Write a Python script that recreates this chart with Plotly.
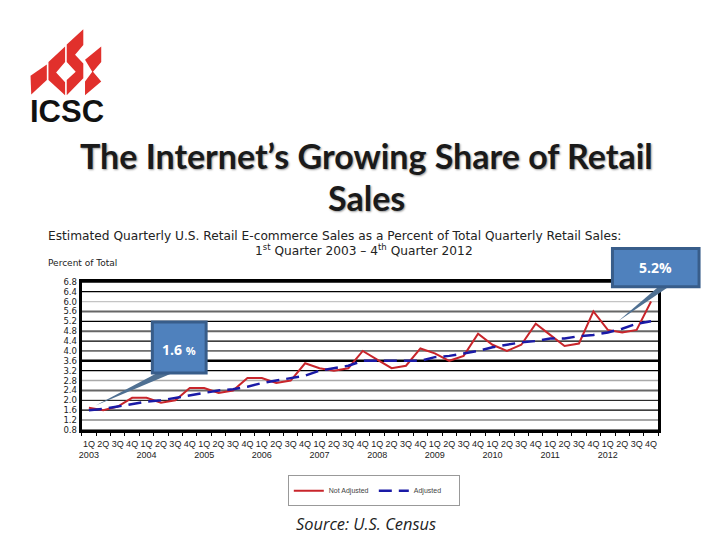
import plotly.graph_objects as go

W, H = 720, 540
quarters = ["1Q", "2Q", "3Q", "4Q"]
years = [2003, 2004, 2005, 2006, 2007, 2008, 2009, 2010, 2011, 2012]
not_adjusted = [1.7, 1.6, 1.75, 2.1, 2.1, 1.9, 2.0, 2.5, 2.5, 2.3,
                2.4, 2.9, 2.9, 2.7, 2.8, 3.5, 3.3, 3.2, 3.3, 4.0,
                3.65, 3.3, 3.4, 4.1, 3.9, 3.6, 3.8, 4.7, 4.25, 4.0,
                4.25, 5.1, 4.65, 4.2, 4.3, 5.6, 4.85, 4.75, 4.85, 6.0]
adjusted = [1.6, 1.65, 1.75, 1.85, 1.95, 2.0, 2.1, 2.2, 2.3, 2.4,
            2.45, 2.55, 2.7, 2.8, 2.9, 3.0, 3.2, 3.3, 3.4, 3.6,
            3.6, 3.6, 3.6, 3.6, 3.75, 3.8, 3.9, 4.0, 4.15, 4.25,
            4.35, 4.4, 4.5, 4.5, 4.6, 4.65, 4.75, 4.9, 5.1, 5.2]
y_ticks = [0.8, 1.2, 1.6, 2.0, 2.4, 2.8, 3.2, 3.6, 4.0, 4.4, 4.8, 5.2, 5.6, 6.0, 6.4, 6.8]
grid_colors = ["#000000", "#8a8a8a", "#000000", "#000000", "#666666", "#aaaaaa", "#000000", "#000000",
               "#000000", "#000000", "#666666", "#000000", "#666666", "#c4c4c4", "#000000", "#000000"]
grid_widths = [1, 1.5, 1.3, 1, 2, 1.5, 1.2, 2.4, 1, 1.2, 2, 1.2, 2, 1.2, 1.2, 2]
x_idx = list(range(len(not_adjusted)))
tick_text = [f"{quarters[i % 4]}<br>{years[i // 4]}" if i % 4 == 0 else quarters[i % 4] for i in x_idx]

def px(x): return x / W
def py(y): return 1 - y / H

def poly(points, fill, line=None, lw=0):
    path = "M" + " L".join(f"{px(a):.4f},{py(b):.4f}" for a, b in points) + " Z"
    return dict(type="path", xref="paper", yref="paper", path=path, fillcolor=fill,
                line=dict(color=line or fill, width=lw), layer="above")

RED = "#E1302C"
def logo(points):  # zoom-crop coordinates of the logo
    return poly([(a / 3 - 1, b / 3 + 8) for a, b in points], RED)

shapes = [dict(type="line", xref="x domain", yref="y", x0=0, x1=1, y0=v, y1=v,
               line=dict(color=c, width=w), layer="below")
          for v, c, w in zip(y_ticks, grid_colors, grid_widths)]
shapes += [
    logo([(86, 192), (135, 158), (135, 205), (88, 250)]),
    logo([(140, 150), (190, 103), (190, 150), (163, 182), (190, 212), (190, 252), (140, 205)]),
    logo([(195, 97), (245, 50), (245, 98), (220, 128), (245, 155), (245, 200), (195, 252), (195, 205), (222, 180), (195, 150)]),
    logo([(250, 143), (299, 103), (299, 150), (274, 180), (299, 210), (250, 252), (250, 210), (272, 180)]),
    poly([(93, 408), (153, 376), (168, 376)], "#4F7092"),
    poly([(150, 323), (204, 323), (204, 375), (150, 375)], "#4F81BD", "#385D8A", 3),
    poly([(618, 322), (657, 288), (667, 288)], "#4F7092"),
    poly([(612, 248), (699, 248), (699, 287), (612, 287)], "#4F81BD", "#385D8A", 3),
]

def note(x, y, text, size, family="Liberation Sans", color="#000", xanchor="left", **fontkw):
    return dict(xref="paper", yref="paper", x=px(x), y=py(y), text=text, showarrow=False,
                xanchor=xanchor, yanchor="middle", align="center",
                font=dict(size=size, family=family, color=color, **fontkw))

annotations = [
    note(64, 109, "<b>ICSC</b>", 31, "Liberation Sans", "#111", "center"),
    note(365, 153.5, "<b>The Internet’s Growing Share of Retail</b>", 34, "Lato", "#1a1a1a", "center",
         shadow="1px 1px 2px #999"),
    note(365, 196.5, "<b>Sales</b>", 34, "Lato", "#1a1a1a", "center", shadow="1px 1px 2px #999"),
    note(43, 235, "Estimated Quarterly U.S. Retail E-commerce Sales as a Percent of Total Quarterly Retail Sales:",
         12.2, "DejaVu Sans", "#222"),
    note(363, 250, "1<sup>st</sup> Quarter 2003 – 4<sup>th</sup> Quarter 2012", 12.2, "DejaVu Sans", "#222", "center"),
    note(43, 263, "Percent of Total", 9, "DejaVu Sans", "#222"),
    note(177, 351, "<b>1.6 <span style='font-size:11px'>%</span></b>", 14, "Open Sans", "#fff", "center"),
    note(655, 267, "<b>5.2%</b>", 14, "Open Sans", "#fff", "center"),
    note(365, 528, "<i>Source: U.S. Census</i>", 16.4, "Open Sans", "#222", "center"),
]

fig = go.Figure()
fig.add_trace(go.Scatter(x=x_idx, y=not_adjusted, mode="lines", name="Not Adjusted",
                         line=dict(color="#C8252B", width=2)))
fig.add_trace(go.Scatter(x=x_idx, y=adjusted, mode="lines", name="Adjusted",
                         line=dict(color="#1A1AA6", width=2.5, dash="13px,7px")))
fig.update_layout(
    width=W, height=H, autosize=False, margin=dict(l=0, r=0, t=0, b=0),
    paper_bgcolor="#fff", plot_bgcolor="#fff", shapes=shapes, annotations=annotations,
    font=dict(family="DejaVu Sans", color="#222"),
    legend=dict(orientation="h", x=px(286), y=py(479), xanchor="left", yanchor="top",
                bordercolor="#999", borderwidth=1, bgcolor="#fff", tracegroupgap=0,
                font=dict(size=7, family="Liberation Sans", color="#444"), itemwidth=30,
                entrywidth=40, entrywidthmode="pixels"),
    xaxis=dict(domain=[px(79), px(658)], range=[-0.5, 39.5], tickmode="array", tickvals=x_idx,
               ticktext=tick_text, tickangle=0, ticks="", showgrid=False, zeroline=False,
               showline=True, linecolor="#000", linewidth=3, mirror=True, ticklabelstandoff=3,
               tickfont=dict(size=9, family="Liberation Sans", color="#222"),
               minor=dict(ticks="outside", tick0=-0.5, dtick=1, ticklen=3, tickcolor="#000", tickwidth=1)),
    yaxis=dict(domain=[py(433), py(282)], range=[0.8, 6.8], tickmode="array", tickvals=y_ticks,
               ticktext=[f"{v:.1f}" for v in y_ticks], ticks="", showgrid=False, zeroline=False,
               showline=True, linecolor="#000", linewidth=3, mirror=True,
               tickfont=dict(size=8.5, family="DejaVu Sans", color="#222")),
)
fig.write_html("out.html", config=dict(displayModeBar=False),
               post_script="document.body.style.margin='0';")
